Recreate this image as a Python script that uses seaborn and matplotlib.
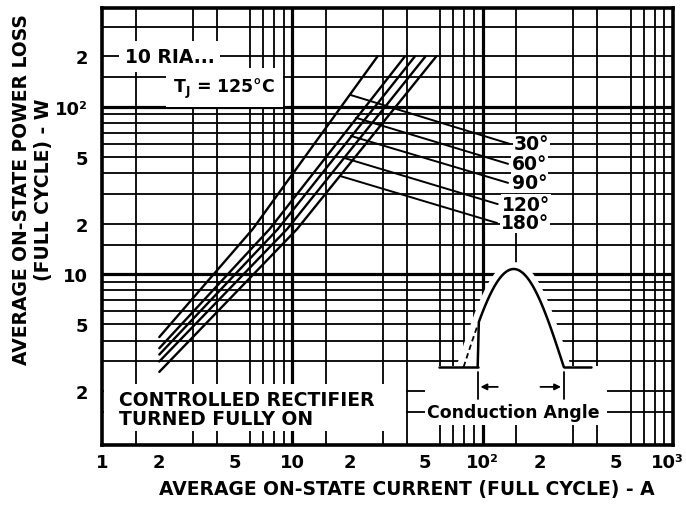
import numpy as np
import pandas as pd
import matplotlib
matplotlib.use("Agg")
import matplotlib.pyplot as plt
import matplotlib.transforms as mtransforms
import seaborn as sns
from matplotlib.patches import Rectangle, Polygon

# curves (average current A, power loss W)
angles = ["30°", "60°", "90°", "120°", "180°"]
current_30 = [2, 6.2, 28]
power_30 = [4.2, 18.6, 200]
current_60 = [2, 7.6, 39]
power_60 = [3.6, 18.6, 200]
current_90 = [2, 8.4, 44]
power_90 = [3.3, 18.6, 200]
current_120 = [2, 9.4, 50]
power_120 = [3.0, 18.6, 200]
current_180 = [2, 10.6, 57]
power_180 = [2.6, 18.6, 200]

# leader lines: point on curve -> label anchor
leader_current = [20.1, 21.6, 20.3, 18.7, 17.8]
leader_power = [118, 86, 67, 49.5, 38.6]
label_current = [139, 136, 136, 120, 119]
label_power = [60, 45.6, 35.1, 26.2, 20.2]

x_ticks = [1, 2, 5, 10, 20, 50, 100, 200, 500, 1000]
x_tick_labels = ["1", "2", "5", "10", "2", "5", "10²", "2", "5", "10³"]
y_ticks = [2, 5, 10, 20, 50, 100, 200]
y_tick_labels = ["2", "5", "10", "2", "5", "10²", "2"]

currents = [current_30, current_60, current_90, current_120, current_180]
powers = [power_30, power_60, power_90, power_120, power_180]
df = pd.concat(
    [pd.DataFrame({"current": c, "power": p, "angle": a}) for a, c, p in zip(angles, currents, powers)],
    ignore_index=True,
)

sns.set_theme(style="white")
plt.rcParams["font.family"] = ["DejaVu Sans"]
plt.rcParams["font.weight"] = "bold"
plt.rcParams["text.color"] = "black"
plt.rcParams["axes.labelcolor"] = "black"

fig = plt.figure(figsize=(6.86, 5.06), dpi=100)
ax = fig.add_axes([102 / 686, 60 / 506, 571 / 686, 437 / 506])
ax.set_xscale("log")
ax.set_yscale("log")

sns.lineplot(data=df, x="current", y="power", hue="angle", palette=["black"] * 5,
             estimator=None, sort=False, legend=False, linewidth=1.7, ax=ax, zorder=3)

# grid like the printed log paper
minor_mult = [1.5, 2, 3, 4, 5, 6, 7, 8, 9]
x_minor = [m * d for d in [1, 10, 100] for m in minor_mult]
y_minor = [m * d for d in [1, 10, 100] for m in minor_mult if m * d < 390]
ax.set_xticks(x_ticks, x_tick_labels)
ax.set_xticks(x_minor, minor=True)
ax.set_yticks(y_ticks, y_tick_labels)
ax.set_yticks(y_minor, minor=True)
ax.xaxis.set_minor_formatter(matplotlib.ticker.NullFormatter())
ax.yaxis.set_minor_formatter(matplotlib.ticker.NullFormatter())
ax.set_xlim(1, 1000)
ax.set_ylim(0.95, 390)
ax.set_axisbelow(True)
ax.grid(which="minor", color="black", linewidth=1.3)
ax.grid(which="major", axis="y", color="black", linewidth=1.3)
for v in [10, 100]:
    ax.axvline(v, color="black", linewidth=2.3, zorder=0.6)
    ax.axhline(v, color="black", linewidth=2.3, zorder=0.6)
ax.tick_params(which="both", length=0, labelsize=13, colors="black")
ax.tick_params(axis="x", pad=6)
ax.tick_params(axis="y", pad=10)
for lab in ax.get_xticklabels() + ax.get_yticklabels():
    lab.set_fontweight("bold")
last = ax.get_xticklabels()[-1]
last.set_transform(last.get_transform() + mtransforms.ScaledTranslation(-6 / 100, 0, fig.dpi_scale_trans))
for s in ax.spines.values():
    s.set_linewidth(2.6)
    s.set_color("black")
ax.set_xlabel("")
ax.set_ylabel("")

# leaders and angle labels
for a, lc, lp, tc, tp in zip(angles, leader_current, leader_power, label_current, label_power):
    ax.plot([lc, tc], [lp, tp], color="black", linewidth=1.4, zorder=3)
    ax.text(tc * 1.05, tp, a, ha="left", va="center", fontsize=13.5, fontweight="bold", zorder=5,
            bbox=dict(facecolor="white", edgecolor="none", pad=0.5))

# text boxes
ax.text(0.04, 0.889, "10 RIA...", transform=ax.transAxes, fontsize=13.5, fontweight="bold",
        ha="left", va="center", zorder=5, bbox=dict(facecolor="white", edgecolor="none", pad=4))
ax.text(0.125, 0.818, r"T$_\mathbf{J}$ = 125°C", transform=ax.transAxes, fontsize=12.5,
        fontweight="bold", ha="left", va="center", zorder=5,
        bbox=dict(facecolor="white", edgecolor="none", pad=5))
ax.add_patch(Rectangle((0.003, 0.032), 0.53, 0.108, transform=ax.transAxes,
                       facecolor="white", edgecolor="none", zorder=1))
ax.text(0.03, 0.082, "CONTROLLED RECTIFIER\nTURNED FULLY ON", transform=ax.transAxes,
        fontsize=13.5, fontweight="bold", ha="left", va="center", linespacing=1.0, zorder=5)

# conduction angle inset
base, peak = 0.1785, 0.4027
x0, x1, xf = 0.6333, 0.8088, 0.6579
ph = np.linspace(0, np.pi, 80)
sx = x0 + (x1 - x0) * ph / np.pi
sy = base + (peak - base) * np.sin(ph)
ax.add_patch(Polygon(np.column_stack([sx, sy]), closed=True, transform=ax.transAxes,
                     facecolor="white", edgecolor="white", linewidth=10, zorder=1))
ax.add_patch(Rectangle((0.565, 0.045), 0.32, 0.135, transform=ax.transAxes,
                       facecolor="white", edgecolor="none", zorder=1))
on = sx >= xf
ax.plot([0.5895, xf], [base, base], color="black", lw=1.8, transform=ax.transAxes, zorder=4)
ax.plot([xf] + list(sx[on]), [base] + list(sy[on]), color="black", lw=1.8,
        transform=ax.transAxes, zorder=4)
ax.plot([x1, 0.8561], [base, base], color="black", lw=1.8, transform=ax.transAxes, zorder=4)
ax.plot(sx[~on], sy[~on], color="black", lw=1.3, ls=(0, (3, 2)), transform=ax.transAxes, zorder=4)
for bx in [xf, x1]:
    ax.plot([bx, bx], [0.105, 0.167], color="black", lw=1.3, transform=ax.transAxes, zorder=4)
ax.annotate("", xy=(xf, 0.133), xytext=(0.698, 0.133), xycoords="axes fraction",
            arrowprops=dict(arrowstyle="-|>", color="black", lw=1.3, mutation_scale=9), zorder=4)
ax.annotate("", xy=(x1, 0.133), xytext=(0.763, 0.133), xycoords="axes fraction",
            arrowprops=dict(arrowstyle="-|>", color="black", lw=1.3, mutation_scale=9), zorder=4)
ax.text(0.721, 0.075, "Conduction Angle", transform=ax.transAxes, fontsize=12.5,
        fontweight="bold", ha="center", va="center", zorder=5,
        bbox=dict(facecolor="white", edgecolor="none", pad=1))

fig.text(33 / 686, 1 - 190 / 506, "AVERAGE ON-STATE POWER LOSS\n(FULL CYCLE) - W", rotation=90,
         ha="center", va="center", fontsize=13.5, fontweight="bold", linespacing=1.2, color="black")
fig.text(407 / 686, 1 - 490 / 506, "AVERAGE ON-STATE CURRENT (FULL CYCLE) - A",
         ha="center", va="center", fontsize=13.5, fontweight="bold", color="black")

fig.savefig("out.png", dpi=100, facecolor="white")
